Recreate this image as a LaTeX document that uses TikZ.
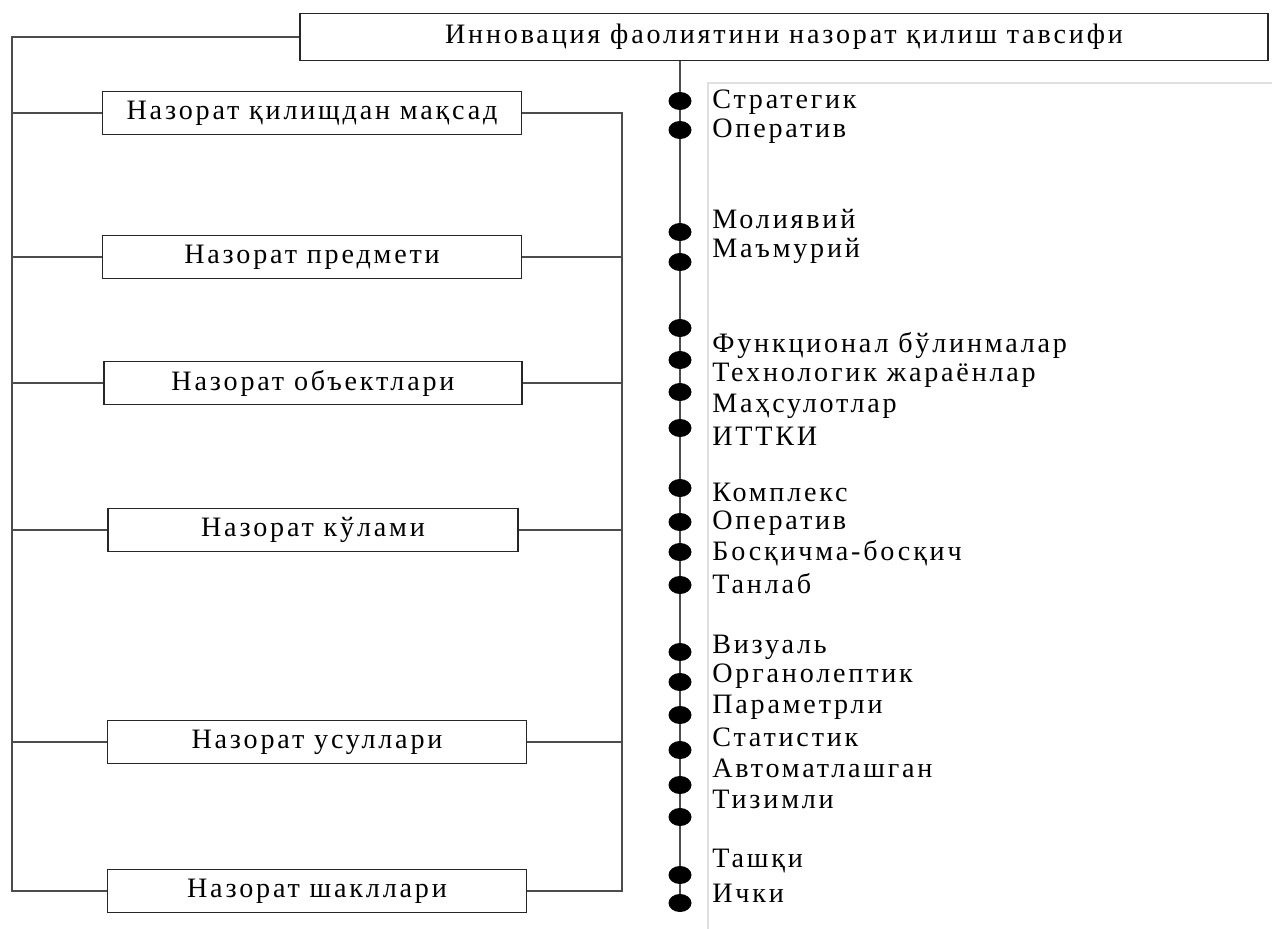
\documentclass[tikz,border=0pt]{standalone}
\usepackage{fontspec}
\setmainfont{Liberation Serif}[LetterSpace=10]
\usetikzlibrary{shapes.geometric,backgrounds}
\colorlet{box edge}{black!85}
\colorlet{link edge}{black!70}
\tikzset{box/.style={draw=box edge, line width=0.9pt, minimum height=0.86cm, inner sep=0pt},
	link/.style={draw=link edge, line width=0.9pt},
	dot/.style={ellipse, fill=black, minimum width=0.46cm, minimum height=0.36cm, inner sep=0pt},
	item/.style={anchor=west, inner sep=0pt}}

\begin{document}
\begin{tikzpicture}[x=0.02cm, y=-0.02cm, font=\fontsize{16}{19}\selectfont]
		\useasboundingbox (0,0) rectangle (1272,929);
		\node[box, minimum width=19.36cm, minimum height=0.94cm] (top) at (784,37) {Инновация фаолиятини назорат қилиш тавсифи};
		\node[box, minimum width=8.38cm] (b1) at (312,113) {Назорат қилищдан мақсад};
		\node[box, minimum width=8.38cm] (b2) at (312,257) {Назорат предмети};
		\node[box, minimum width=8.36cm] (b3) at (313,383) {Назорат объектлари};
		\node[box, minimum width=8.2cm] (b4) at (313,530) {Назорат кўлами};
		\node[box, minimum width=8.38cm] (b5) at (317,742) {Назорат усуллари};
		\node[box, minimum width=8.38cm] (b6) at (317,891) {Назорат шакллари};
		
		\coordinate (lt) at (12,37);
		\coordinate (rt) at (622,113);
		\draw[link] (top.west) -- (lt) -- (lt |- b6.west) -- (b6.west);
		\foreach \b in {b1,b2,b3,b4,b5}
			\draw[link] (\b.west) -- (lt |- \b.west);
		\draw[link] (b1.east) -- (rt) -- (rt |- b6.east) -- (b6.east);
		\foreach \b in {b2,b3,b4,b5}
			\draw[link] (\b.east) -- (rt |- \b.east);
		
		\draw[black!12, line width=0.6pt] (708,929) -- (708,83) -- (1272,83);
		\coordinate (mid) at (680,60);
		\foreach \y [count=\i] in {101,130,232,262,328,360,392,428,488,522,552,585,652,682,715,750,785,817,875,903}
			\node[dot] (d\i) at (680,\y) {};
		\begin{scope}[on background layer]
			\draw[link] (mid) -- (d20.center);
		\end{scope}
		\foreach \y/\t [count=\i] in {102/Стратегик, 131/Оператив, 219/Молиявий, 251/Маъмурий,
			345/Функционал бўлинмалар, 375/Технологик жараёнлар, 406/Маҳсулотлар, 436/ИТТКИ,
			492/Комплекс, 523/Оператив, 553/Босқичма-босқич, 584/Танлаб,
			647/Визуаль, 676/Органолептик, 707/Параметрли, 737/Статистик, 768/Автоматлашган, 799/Тизимли,
			861/Ташқи, 893/Ички}
			\node[item] (t\i) at (712,\y) {\t};
		\end{tikzpicture}
\end{document}
